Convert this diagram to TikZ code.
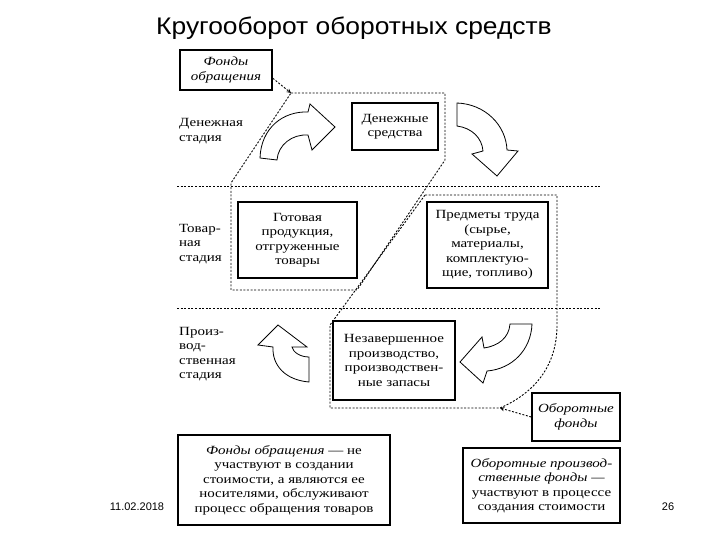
\documentclass[tikz,border=0pt]{standalone}
\usepackage{fontspec}
\setmainfont[FakeStretch=1.2]{Liberation Serif}
\setsansfont{Liberation Sans}
\newfontfamily\titlefont[FakeStretch=1.1]{Liberation Sans}
\usepackage{tikz}
\newcommand{\boxfont}{\fontsize{12.5}{14.5}\selectfont}

\begin{document}
\begin{tikzpicture}[x=1pt, y=-1pt, >=stealth, font=\boxfont,
  box/.style={draw, line width=1.5pt, align=center, inner sep=1pt, font=\boxfont},
  itbox/.style={box, font=\boxfont\itshape},
  dotline/.style={line width=0.9pt, dash pattern=on 2pt off 1.6pt},
  blockarrow/.style={draw, fill=white, line width=0.8pt},
  stage/.style={anchor=west, align=left, inner sep=0pt}]
  \useasboundingbox (0,0) rectangle (720,540);
  \node[font=\titlefont\fontsize{24}{28}\selectfont, anchor=base] (title) at (354,35) {Кругооборот оборотных средств};

  \draw[dotline] (177,186) -- (600,186);
  \draw[dotline] (177,308) -- (600,308);
  \coordinate (cA) at (291,93);
  \coordinate (cB) at (500,408);
  \draw[dotline] (cA) -- (445,93) -- (445,160) -- (357,290) -- (231,290) -- (231,183) -- cycle;
  \draw[dotline] (425,195) -- (557,195) -- (557,325) .. controls (557,370) and (530,395) .. (cB) -- (330,408) -- (330,325) -- cycle;

  \node[stage] (sden) at (179,131) {Денежная\\стадия};
  \node[stage] (stov) at (179,244) {Товар-\\ная\\стадия};
  \node[stage] (spro) at (179,354) {Произ-\\вод-\\ственная\\стадия};

  \node[itbox, minimum width=92pt, minimum height=40pt] (fo) at (226,70) {Фонды\\обращения};
  \node[box, minimum width=86pt, minimum height=47pt] (ds) at (395,126.5) {Денежные\\средства};
  \node[box, minimum width=119pt, minimum height=76pt] (gp) at (297.5,240) {Готовая\\продукция,\\отгруженные\\товары};
  \node[box, minimum width=121pt, minimum height=86pt] (pt) at (487.5,245) {Предметы труда\\(сырье,\\материалы,\\комплектую-\\щие, топливо)};
  \node[box, minimum width=122pt, minimum height=79pt] (np) at (394,360.5) {Незавершенное\\производство,\\производствен-\\ные запасы};
  \node[itbox, minimum width=88pt, minimum height=48pt] (of) at (576,417) {Оборотные\\фонды};
  \node[box, minimum width=212pt, minimum height=90pt] (fn) at (284,480) {{\itshape Фонды обращения} — не\\участвуют в создании\\стоимости, а являются ее\\носителями, обслуживают\\процесс обращения товаров};
  \node[box, minimum width=157pt, minimum height=75pt] (opf) at (541.5,485.5) {{\itshape Оборотные производ-}\\{\itshape ственные фонды —}\\участвуют в процессе\\создания стоимости};

  \draw[blockarrow] (260,158) .. controls (261,128) and (283,111) .. (308,112) -- (310,104) -- (335,127) -- (312,150) -- (308,135) .. controls (292,134) and (278,145) .. (277,160) -- cycle;
  \draw[blockarrow] (457,103) .. controls (485,104) and (506,125) .. (507,150) -- (518,151) -- (497,176) -- (472,154) -- (483,151) .. controls (482,138) and (472,128) .. (457,126) -- cycle;
  \draw[blockarrow] (532,324) .. controls (531,350) and (512,369) .. (487,371) -- (483,383) -- (460,362) -- (482,337) -- (484,348) .. controls (498,346) and (509,338) .. (510,324) -- cycle;
  \draw[blockarrow] (309,382) .. controls (285,380) and (272,365) .. (273,347) -- (258,345) -- (278,325) -- (307,347) -- (292,347) .. controls (293,352) and (300,357) .. (309,357) -- cycle;

  \draw[dotline, ->] (fo.-10) -- (cA);
  \draw[dotline, ->] (of.west) -- (cB);

  \node[font=\sffamily\fontsize{11}{13}\selectfont] (date) at (137,507) {11.02.2018};
  \node[font=\sffamily\fontsize{11}{13}\selectfont] (page) at (668,507) {26};
\end{tikzpicture}
\end{document}
